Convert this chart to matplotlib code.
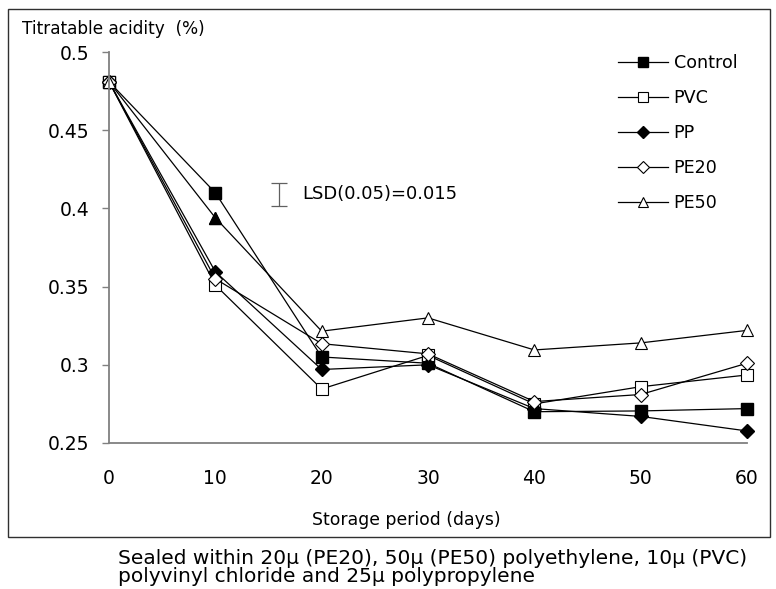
import matplotlib.pyplot as plt
from matplotlib.patches import Rectangle

days = [0, 10, 20, 30, 40, 50, 60]
control = [0.481, 0.410, 0.305, 0.301, 0.270, 0.2705, 0.272]
pvc = [0.481, 0.351, 0.2845, 0.306, 0.275, 0.286, 0.2935]
pp = [0.481, 0.3595, 0.297, 0.300, 0.272, 0.267, 0.2577]
pe20 = [0.481, 0.355, 0.3135, 0.307, 0.2765, 0.281, 0.301]
pe50 = [0.481, 0.394, 0.3215, 0.330, 0.3095, 0.314, 0.322]
lsd = 0.015

plt.rcParams['font.family'] = 'DejaVu Sans'
W, H = 776, 589
fig = plt.figure(figsize=(7.76, 5.89), dpi=100)
ax = fig.add_axes([109/W, 1 - 443/H, 638/W, 391/H])

ms = 9
ax.plot(days, control, '-s', color='black', lw=0.9, ms=ms, mfc='black', label='Control', clip_on=False)
ax.plot(days, pvc, '-s', color='black', lw=0.9, ms=ms, mfc='white', mew=0.8, label='PVC', clip_on=False)
ax.plot(days, pp, '-D', color='black', lw=0.9, ms=ms-1.5, mfc='black', label='PP', clip_on=False)
ax.plot(days, pe20, '-D', color='black', lw=0.9, ms=ms-1.5, mfc='white', mew=0.8, label='PE20', clip_on=False)
ax.plot(days, pe50, '-^', color='black', lw=0.9, ms=ms, mfc='white', mew=0.8, label='PE50', clip_on=False)
# the 10 day point of PE50 is drawn filled in the original
ax.plot(days[1], pe50[1], '^', color='black', ms=ms)

# LSD bar
ax.errorbar([16.0], [0.4089], yerr=lsd / 2, color='#606060', capsize=5.5, lw=0.9, capthick=0.9)
ax.text(18.2, 0.4089, 'LSD(0.05)=0.015', fontsize=13, va='center', ha='left')

ax.set_xlim(0, 60)
ax.set_ylim(0.25, 0.5)
ax.set_xticks(days)
ax.set_xticks([0], minor=True)
ax.set_yticks([0.25, 0.3, 0.35, 0.4, 0.45, 0.5])
ax.set_yticklabels(['0.25', '0.3', '0.35', '0.4', '0.45', '0.5'])
ax.tick_params(axis='y', labelsize=13.5, direction='out', length=5, color='#808080', width=1, pad=9)
ax.tick_params(axis='x', which='major', labelsize=13.5, length=0, pad=19)
ax.tick_params(axis='x', which='minor', length=5, direction='out', color='#808080', width=1.3)
for s in ['top', 'right']:
    ax.spines[s].set_visible(False)
for s in ['left', 'bottom']:
    ax.spines[s].set_color('#808080')
    ax.spines[s].set_linewidth(1.3)

fig.text(406/W, 1 - 520/H, 'Storage period (days)', fontsize=12.4, va='center', ha='center')
fig.text(22/W, 1 - 29/H, 'Titratable acidity  (%)', fontsize=12.2, va='center', ha='left')

leg = ax.legend(loc='upper left', bbox_to_anchor=(606/W, 1 - 42/H), bbox_transform=fig.transFigure,
                frameon=False, fontsize=12.6, handlelength=2.86, handletextpad=0.3,
                labelspacing=0.97, markerscale=0.8, borderpad=0.2)

fig.patches.append(Rectangle((8/W, 1 - 537/H), 762/W, 528/H, transform=fig.transFigure,
                             fill=False, edgecolor='#303030', lw=1.0))

fig.text(118/W, 1 - 558/H, 'Sealed within 20µ (PE20), 50µ (PE50) polyethylene, 10µ (PVC)',
         fontsize=14.5, va='center', ha='left')
fig.text(118/W, 1 - 577/H, 'polyvinyl chloride and 25µ polypropylene',
         fontsize=14.5, va='center', ha='left')

fig.savefig('out.png', dpi=100)
